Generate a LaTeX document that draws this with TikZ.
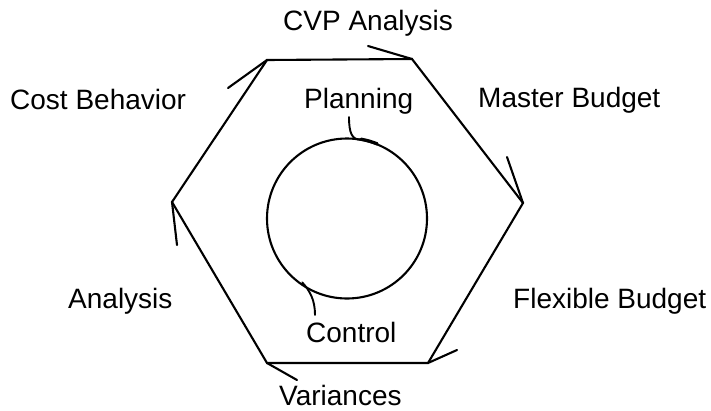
\documentclass[tikz,border=0pt]{standalone}
\usepackage{fontspec}
\setmainfont{Liberation Sans}
\usetikzlibrary{calc}
\begin{document}
\begin{tikzpicture}[x=1pt,y=-1pt,
  edge/.style={line width=2.1pt,line cap=round,line join=miter},
  barb/.style={line width=2.1pt,line cap=round},
  lbl/.style={anchor=base west,inner sep=0pt,font=\fontsize{28}{32}\selectfont}]
\useasboundingbox (0,0) rectangle (711,410);

% hexagon corners
\coordinate (tl) at (267,60);
\coordinate (tr) at (412,59);
\coordinate (r)  at (523,203);
\coordinate (br) at (428,363);
\coordinate (bl) at (267,363);
\coordinate (l)  at (172,202);

% free ends of the half arrow heads
\coordinate (btl) at (228,88);
\coordinate (btr) at (368,46);
\coordinate (br1) at (507,157);
\coordinate (bbr) at (457,350);
\coordinate (bbl) at (297,380);
\coordinate (bl1) at (177,245);

% cycle edges
\draw[edge] (l) -- (tl) -- (tr) -- (r) -- (br) -- (bl) -- cycle;

% half arrow heads at each corner
\draw[barb] (tl) -- (btl);
\draw[barb] (tr) -- (btr);
\draw[barb] (r)  -- (br1);
\draw[barb] (br) -- (bbr);
\draw[barb] (bl) -- (bbl);
\draw[barb] (l)  -- (bl1);

% inner cycle
\node[draw,circle,line width=2.1pt,minimum size=160pt,inner sep=0pt] (ring) at (347,218.5) {};

% labels
\node[lbl] (cvp)  at (283,30)  {CVP Analysis};
\node[lbl] (cost) at (10,109)  {Cost Behavior};
\node[lbl] (mast) at (478,107) {Master Budget};
\node[lbl] (plan) at (304,108) {Planning};
\node[lbl] (anal) at (68,308)  {Analysis};
\node[lbl] (flex) at (513,308) {Flexible Budget};
\node[lbl] (ctrl) at (306,342) {Control};
\node[lbl] (vari) at (279,405) {Variances};

% leader from Planning into the ring
\coordinate (pstart) at (349,117);
\coordinate (pjoin)  at ($(ring.center)+(-80:80)$);
\draw[line width=1.9pt,line cap=round] (pstart) .. controls (349,133) and (352,140) .. (pjoin);
\draw[line width=3.3pt,line cap=round] ($(ring.center)+(-80:80.5)$) arc[start angle=-80,end angle=-68,radius=80.5];

% leader from the ring to Control
\coordinate (cjoin) at ($(ring.center)+(125:78)$);
\coordinate (cend)  at (315,315);
\draw[line width=1.9pt,line cap=round] (cjoin) .. controls (310,291) and (315,300) .. (cend);
\end{tikzpicture}
\end{document}
